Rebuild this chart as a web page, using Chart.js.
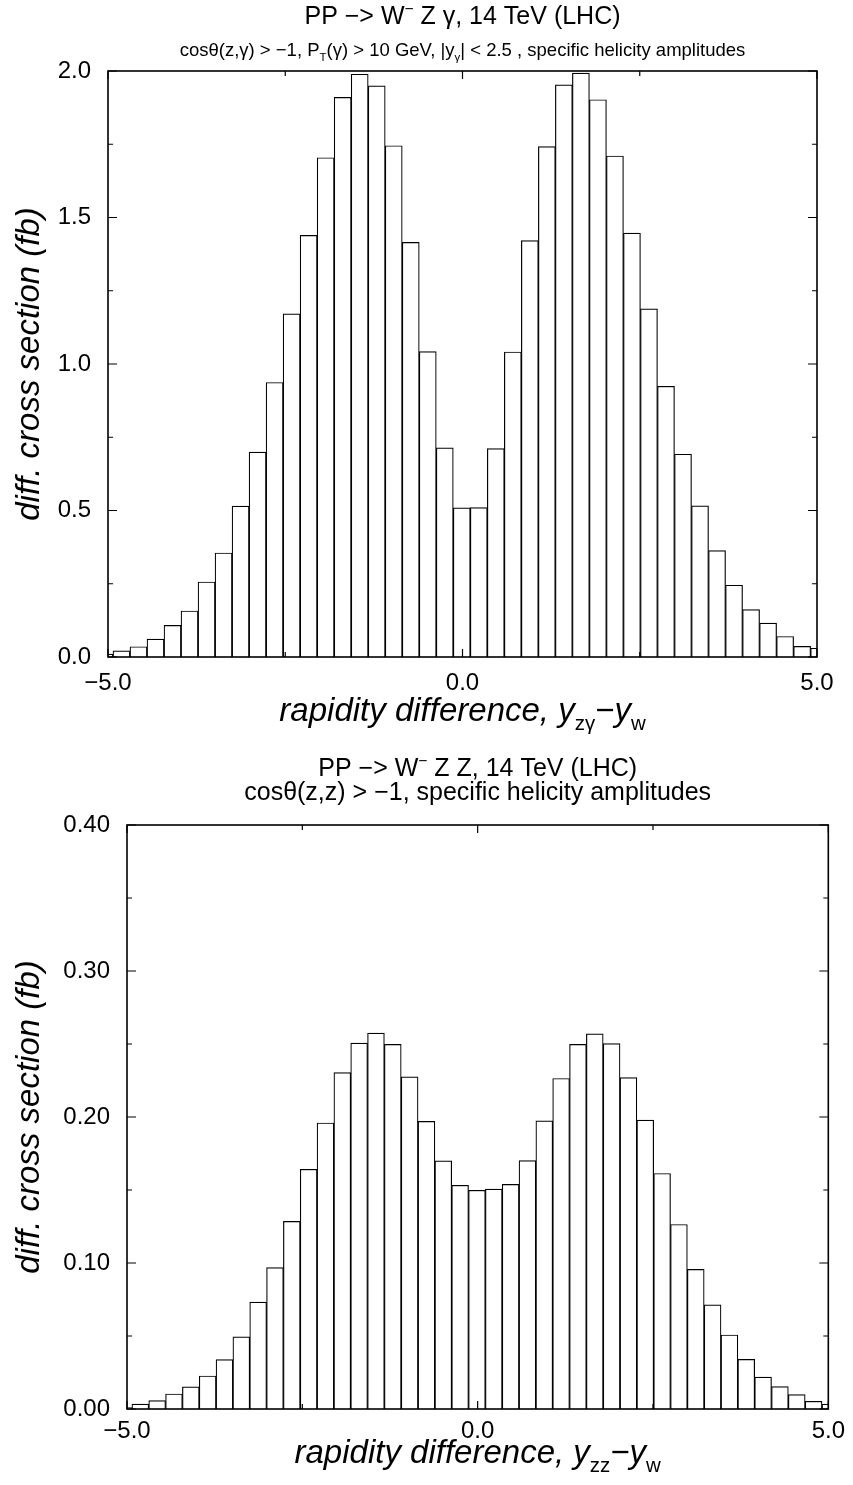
<!DOCTYPE html>
<html>
<head>
<meta charset="utf-8">
<script src="https://cdn.jsdelivr.net/npm/chart.js@4.4.1/dist/chart.umd.min.js"></script>
<style>
  body { margin: 0; background: #fff; overflow: hidden; }
  .panel { position: absolute; left: 0; width: 853px; }
</style>
</head>
<body>
<div class="panel" style="top:0"><canvas id="wzg" width="853" height="745"></canvas></div>
<div class="panel" style="top:745px"><canvas id="wzz" width="853" height="740"></canvas></div>
<script>
// bin centres (bin width 0.24), shared by both histograms
const binCentres = [-5.05, -4.81, -4.57, -4.33, -4.09, -3.85, -3.61, -3.37, -3.13, -2.89,
  -2.65, -2.41, -2.17, -1.93, -1.69, -1.45, -1.21, -0.97, -0.73, -0.49,
  -0.25, -0.01, 0.23, 0.47, 0.71, 0.95, 1.19, 1.43, 1.67, 1.91,
  2.15, 2.39, 2.63, 2.87, 3.11, 3.35, 3.59, 3.83, 4.07, 4.31,
  4.55, 4.79, 5.03];

// PP -> W- Z gamma, diff. cross section (fb)
const wzgValues = [0.010, 0.021, 0.035, 0.061, 0.108, 0.157, 0.256, 0.355, 0.515, 0.699,
  0.937, 1.171, 1.439, 1.704, 1.910, 1.989, 1.949, 1.745, 1.415, 1.042,
  0.714, 0.509, 0.510, 0.711, 1.041, 1.421, 1.742, 1.953, 1.993, 1.902,
  1.710, 1.447, 1.188, 0.924, 0.692, 0.516, 0.363, 0.245, 0.162, 0.116,
  0.070, 0.036, 0.030];

// PP -> W- Z Z, diff. cross section (fb)
const wzzValues = [0.0010, 0.0034, 0.0057, 0.0103, 0.0151, 0.0226, 0.0339, 0.0494, 0.0732, 0.0968,
  0.1285, 0.1642, 0.1959, 0.2304, 0.2506, 0.2575, 0.2497, 0.2275, 0.1970, 0.1699,
  0.1532, 0.1498, 0.1506, 0.1538, 0.1702, 0.1973, 0.2264, 0.2497, 0.2569, 0.2503,
  0.2270, 0.1979, 0.1613, 0.1264, 0.0956, 0.0714, 0.0507, 0.0340, 0.0219, 0.0153,
  0.0098, 0.0053, 0.0034];

// axis ticks
const xRange = [-5, 5];
const xLabelStep = 5;          // labels at -5.0, 0.0, 5.0
const xMinorTicks = [-2.5, 2.5];
const wzgYRange = [0, 2.0];
const wzgYStep = 0.5;
const wzgYMinor = [0.25, 0.75, 1.25, 1.75];
const wzzYRange = [0, 0.40];
const wzzYStep = 0.1;
const wzzYMinor = [0.05, 0.15, 0.25, 0.35];

// text pieces: [text, 'sub' | 'sup' | undefined]
const yTitle = 'diff. cross section (fb)';
const wzgTitle = [['PP \u2212> W'], ['\u2212', 'sup'], [' Z \u03b3, 14 TeV (LHC)']];
const wzgSubtitle = [['cos\u03b8(z,\u03b3) > \u22121, P'], ['T', 'sub'], ['(\u03b3) > 10 GeV, |y'],
  ['\u03b3', 'sub'], ['| < 2.5 , specific helicity amplitudes']];
const wzgXTitle = [['rapidity difference, y'], ['z\u03b3', 'sub'], ['\u2212y'], ['w', 'sub']];
const wzzTitle = [['PP \u2212> W'], ['\u2212', 'sup'], [' Z Z, 14 TeV (LHC)']];
const wzzSubtitle = [['cos\u03b8(z,z) > \u22121, specific helicity amplitudes']];
const wzzXTitle = [['rapidity difference, y'], ['zz', 'sub'], ['\u2212y'], ['w', 'sub']];

const FAMILY = "'Liberation Sans', Arial, Helvetica, sans-serif";

function drawRich(ctx, parts, cx, baseline, size, style) {
  const fontOf = p => (p[1] ? 'normal ' : style + ' ') + (p[1] ? size * 0.62 : size) + 'px ' + FAMILY;
  let w = 0;
  parts.forEach(p => { ctx.font = fontOf(p); w += ctx.measureText(p[0]).width; });
  let x = cx - w / 2;
  ctx.textAlign = 'left';
  ctx.textBaseline = 'alphabetic';
  ctx.fillStyle = '#000';
  parts.forEach(p => {
    ctx.font = fontOf(p);
    const dy = p[1] === 'sub' ? size * 0.28 : p[1] === 'sup' ? -size * 0.42 : 0;
    ctx.fillText(p[0], x, baseline + dy);
    x += ctx.measureText(p[0]).width;
  });
}

// frame, inward ticks on all sides and the titles
const histFrame = {
  id: 'histFrame',
  afterDatasetsDraw(chart, args, o) {
    const { ctx, chartArea: a, scales: { x, y } } = chart;
    ctx.save();
    ctx.strokeStyle = '#000';
    ctx.lineWidth = 1.2;
    ctx.beginPath();
    const yt = (v, len) => {
      const p = y.getPixelForValue(v);
      ctx.moveTo(a.left, p); ctx.lineTo(a.left + len, p);
      ctx.moveTo(a.right, p); ctx.lineTo(a.right - len, p);
    };
    const xt = (v, len) => {
      const p = x.getPixelForValue(v);
      ctx.moveTo(p, a.top); ctx.lineTo(p, a.top + len);
      ctx.moveTo(p, a.bottom); ctx.lineTo(p, a.bottom - len);
    };
    y.ticks.forEach(t => yt(t.value, o.major));
    o.yMinor.forEach(v => yt(v, o.minor));
    x.ticks.forEach(t => xt(t.value, o.major - 1));
    o.xMinor.forEach(v => xt(v, o.minor));
    ctx.stroke();
    ctx.lineWidth = 1.6;
    ctx.strokeRect(a.left, a.top, a.right - a.left, a.bottom - a.top);
    ctx.restore();
  },
  afterDraw(chart, args, o) {
    const { ctx, chartArea: a } = chart;
    const cx = (a.left + a.right) / 2;
    ctx.save();
    drawRich(ctx, o.title, cx, o.titleY, o.titleSize, 'normal');
    drawRich(ctx, o.subtitle, cx, o.subtitleY, o.subtitleSize, 'normal');
    drawRich(ctx, o.xTitle, cx, o.xTitleY, 33, 'italic');
    ctx.restore();
  }
};

function makeHist(id, values, cfg) {
  const tickFont = { family: FAMILY, size: 24 };
  return new Chart(document.getElementById(id), {
    type: 'bar',
    data: {
      datasets: [{
        data: binCentres.map((c, i) => ({ x: c, y: values[i] })),
        backgroundColor: '#fff',
        borderColor: '#000',
        borderWidth: 1.2,
        borderSkipped: 'start',
        barPercentage: 1,
        categoryPercentage: 1,
        clip: 0
      }]
    },
    options: {
      responsive: false,
      animation: false,
      layout: { autoPadding: false, padding: { top: cfg.top, right: cfg.right, left: 0, bottom: 0 } },
      plugins: {
        legend: { display: false },
        tooltip: { enabled: false },
        histFrame: cfg.frame
      },
      scales: {
        x: {
          type: 'linear',
          min: xRange[0], max: xRange[1],
          offset: false,
          grid: { display: false, drawTicks: false, offset: false },
          border: { display: false },
          ticks: {
            stepSize: xLabelStep, padding: cfg.xPad, color: '#000', font: tickFont,
            maxRotation: 0, autoSkip: false,
            callback: v => v.toFixed(1).replace('-', '\u2212')
          },
          afterFit: s => { s.height = cfg.bottomH; }
        },
        y: {
          min: cfg.yRange[0], max: cfg.yRange[1],
          grid: { display: false, drawTicks: false },
          border: { display: false },
          ticks: {
            stepSize: cfg.yStep, padding: 17, color: '#000', font: tickFont,
            callback: v => v.toFixed(cfg.digits)
          },
          title: {
            display: true, text: yTitle, color: '#000',
            font: { family: FAMILY, size: 33, style: 'italic' },
            padding: { top: 10, bottom: 0 }
          },
          afterFit: s => { s.width = cfg.leftW; }
        }
      }
    },
    plugins: [histFrame]
  });
}

makeHist('wzg', wzgValues, {
  top: 71, right: 36, leftW: 108, bottomH: 88, xPad: 12,
  yRange: wzgYRange, yStep: wzgYStep, digits: 1,
  frame: {
    yMinor: wzgYMinor, xMinor: xMinorTicks, major: 9, minor: 5,
    title: wzgTitle, titleY: 24, titleSize: 25,
    subtitle: wzgSubtitle, subtitleY: 56, subtitleSize: 18.5,
    xTitle: wzgXTitle, xTitleY: 721
  }
});

makeHist('wzz', wzzValues, {
  top: 80, right: 19, leftW: 127, bottomH: 76, xPad: 8,
  yRange: wzzYRange, yStep: wzzYStep, digits: 2,
  frame: {
    yMinor: wzzYMinor, xMinor: xMinorTicks, major: 9, minor: 5,
    title: wzzTitle, titleY: 31, titleSize: 25,
    subtitle: wzzSubtitle, subtitleY: 55, subtitleSize: 25,
    xTitle: wzzXTitle, xTitleY: 718
  }
});
</script>
</body>
</html>
